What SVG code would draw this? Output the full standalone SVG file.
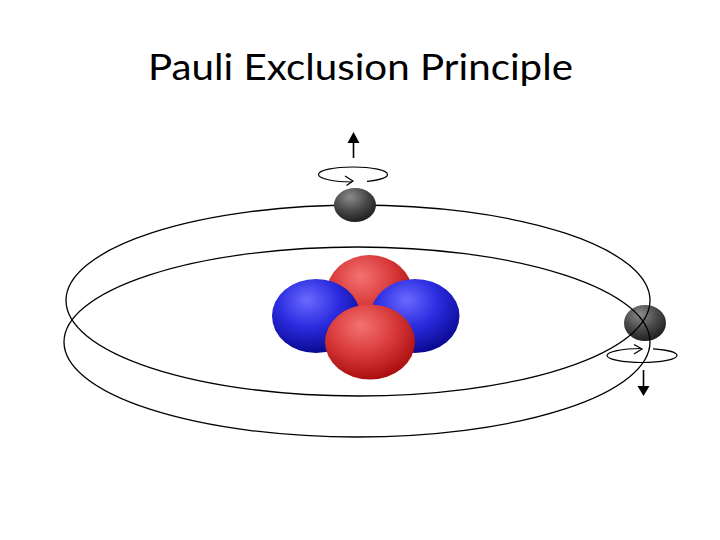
<svg xmlns="http://www.w3.org/2000/svg" width="720" height="540" viewBox="0 0 720 540">
  <defs>
    <radialGradient id="gRed" cx="0.42" cy="0.32" r="0.7" fx="0.4" fy="0.28">
      <stop offset="0" stop-color="#f47272"/>
      <stop offset="0.5" stop-color="#da3c3c"/>
      <stop offset="1" stop-color="#a80c0c"/>
    </radialGradient>
    <radialGradient id="gBlue" cx="0.42" cy="0.32" r="0.7" fx="0.4" fy="0.28">
      <stop offset="0" stop-color="#6a6aff"/>
      <stop offset="0.5" stop-color="#2c2ce0"/>
      <stop offset="1" stop-color="#08088f"/>
    </radialGradient>
    <radialGradient id="gElec" cx="0.4" cy="0.3" r="0.75" fx="0.38" fy="0.26">
      <stop offset="0" stop-color="#8c8c8c"/>
      <stop offset="0.55" stop-color="#474747"/>
      <stop offset="1" stop-color="#1a1a1a"/>
    </radialGradient>
    <style>
      .orbit { fill: none; stroke: #000; stroke-width: 1.3; }
      .spin { fill: none; stroke: #000; stroke-width: 1.2; }
      .axis { stroke: #000; stroke-width: 1.6; }
      .head { fill: #000; }
      .title { font-family: Lato, "Open Sans", "Liberation Sans", sans-serif; font-size: 36px; fill: #000; }
    </style>
  </defs>
  <rect width="720" height="540" fill="#fff"/>

  <text class="title" x="148" y="80" textLength="425" lengthAdjust="spacingAndGlyphs">Pauli Exclusion Principle</text>

  <g id="nucleus">
    <ellipse id="proton-top" cx="369.5" cy="293" rx="43" ry="38" fill="url(#gRed)"/>
    <ellipse id="neutron-left" cx="316" cy="316" rx="44" ry="37" fill="url(#gBlue)"/>
    <ellipse id="neutron-right" cx="415" cy="316" rx="44.5" ry="37" fill="url(#gBlue)"/>
    <ellipse id="proton-bottom" cx="370" cy="342" rx="45" ry="37.5" fill="url(#gRed)"/>
  </g>

  <g id="electron-right">
    <ellipse cx="645" cy="323" rx="21" ry="18" fill="url(#gElec)"/>
    <path class="spin" d="M607,355.5 A35,7 0 0 0 677,355.5 M607,355.5 A35,7 0 0 1 641,348.5 M653,348.9 A35,7 0 0 1 677,355.5"/>
    <polyline class="spin" points="634,344.5 642,349 634,354"/>
    <line class="axis" x1="643.5" y1="370" x2="643.5" y2="388"/>
    <polygon class="head" points="643.5,396 637.5,386 649.5,386"/>
  </g>

  <g id="orbits">
    <ellipse class="orbit" cx="358" cy="300.5" rx="292" ry="95.5"/>
    <ellipse class="orbit" cx="357" cy="342" rx="293" ry="95"/>
  </g>

  <g id="electron-top">
    <ellipse cx="355" cy="205" rx="21" ry="17" fill="url(#gElec)"/>
    <path class="spin" d="M318.5,174.5 A34.5,7.5 0 0 1 387.5,174.5 M318.5,174.5 A34.5,7.5 0 0 0 352,182 M367,181.4 A34.5,7.5 0 0 0 387.5,174.5"/>
    <polyline class="spin" points="345,176 353,181 346.5,185.5"/>
    <line class="axis" x1="353.5" y1="158" x2="353.5" y2="141"/>
    <polygon class="head" points="353.5,132 347.5,143 359.5,143"/>
  </g>
</svg>
